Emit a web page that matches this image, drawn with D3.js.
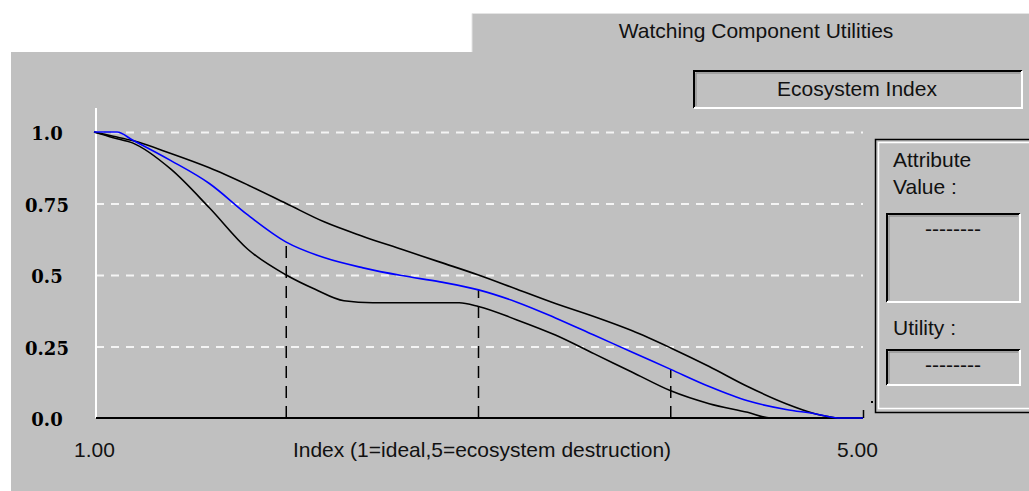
<!DOCTYPE html>
<html>
<head>
<meta charset="utf-8">
<script src="https://cdn.jsdelivr.net/npm/d3@7"></script>
<style>
  body { margin:0; background:#fff; }
  svg { display:block; }
  .ui { font-family:"Liberation Sans", Arial, sans-serif; font-size:21px; fill:#111; }
</style>
</head>
<body>
<svg id="chart" width="1029" height="491"></svg>
<script>
// 曲线数据 (x = index 1..5, y = utility)
var upperX = [1.0,1.1,1.2,1.4,1.6,1.8,2.0,2.2,2.4,2.6,2.8,3.0,3.2,3.4,3.6,3.8,4.0,4.2,4.4,4.6,4.75,4.86];
var upperY = [1.0,0.985,0.97,0.925,0.875,0.815,0.75,0.685,0.635,0.59,0.545,0.50,0.45,0.40,0.355,0.305,0.245,0.18,0.11,0.05,0.015,0];

var midX = [1.0,1.12,1.2,1.4,1.6,1.8,2.0,2.2,2.4,2.6,2.8,3.0,3.2,3.4,3.6,3.8,4.0,4.2,4.4,4.6,4.75,4.87,5.0];
var midY = [1.0,1.0,0.972,0.9,0.82,0.71,0.615,0.56,0.525,0.498,0.476,0.448,0.405,0.35,0.29,0.23,0.17,0.11,0.06,0.03,0.015,0,0];

var lowerX = [1.0,1.1,1.2,1.4,1.6,1.8,2.0,2.15,2.3,2.45,2.7,2.9,3.0,3.2,3.4,3.6,3.8,4.0,4.2,4.4,4.52,4.62];
var lowerY = [1.0,0.98,0.962,0.87,0.735,0.59,0.50,0.45,0.41,0.403,0.403,0.403,0.39,0.343,0.29,0.225,0.16,0.095,0.05,0.02,0,0];

var markerX = [2, 3, 4];          // 虚线位置
var gridY = [0.25, 0.5, 0.75, 1.0];
var yTicks = [0, 0.25, 0.5, 0.75, 1.0];
var yLabels = ["0.0", "0.25", "0.5", "0.75", "1.0"];
var xTicks = [1, 5];
var xLabels = ["1.00", "5.00"];

var svg = d3.select("#chart");

var x = d3.scaleLinear().domain([1, 5]).range([94, 863]);
var y = d3.scaleLinear().domain([0, 1]).range([418, 132]);

// 背景: 白色 + 灰色面板带标签页
svg.append("path")
  .attr("d", "M11,52 L472,52 L472,13 L1029,13 L1029,491 L11,491 Z")
  .attr("fill", "#c0c0c0");
svg.append("path")
  .attr("d", "M472,52 L472,13.5 L1029,13.5")
  .attr("fill", "none").attr("stroke", "#e4e4e4").attr("stroke-width", 1);

svg.append("text").attr("class", "ui")
  .attr("x", 756).attr("y", 38).attr("text-anchor", "middle")
  .text("Watching Component Utilities");

// 凹陷框
function sunken(x0, y0, w, h){
  var g = svg.append("g");
  g.append("path").attr("d", "M" + x0 + "," + (y0 + h) + " V" + y0 + " H" + (x0 + w))
    .attr("fill", "none").attr("stroke", "#000").attr("stroke-width", 2);
  g.append("path").attr("d", "M" + (x0 + 2) + "," + (y0 + h - 2) + " V" + (y0 + 2) + " H" + (x0 + w - 2))
    .attr("fill", "none").attr("stroke", "#808080").attr("stroke-width", 1);
  g.append("path").attr("d", "M" + x0 + "," + (y0 + h) + " H" + (x0 + w) + " V" + y0)
    .attr("fill", "none").attr("stroke", "#fff").attr("stroke-width", 2);
  return g;
}

sunken(694, 71, 328, 37);
svg.append("text").attr("class", "ui")
  .attr("x", 857).attr("y", 96).attr("text-anchor", "middle")
  .text("Ecosystem Index");

// 右侧分组框
svg.append("rect").attr("x", 875.5).attr("y", 139.5).attr("width", 170).attr("height", 273)
  .attr("fill", "none").attr("stroke", "#000").attr("stroke-width", 1.5);
svg.append("rect").attr("x", 878.5).attr("y", 142.5).attr("width", 170).attr("height", 266)
  .attr("fill", "none").attr("stroke", "#fff").attr("stroke-width", 1.5);

svg.append("text").attr("class", "ui").attr("x", 893).attr("y", 167).text("Attribute");
svg.append("text").attr("class", "ui").attr("x", 893).attr("y", 194).text("Value :");
sunken(887, 214, 133, 88);
svg.append("text").attr("class", "ui").attr("x", 953).attr("y", 236).attr("text-anchor", "middle").text("--------");

svg.append("text").attr("class", "ui").attr("x", 893).attr("y", 335).text("Utility :");
sunken(887, 350, 133, 35);
svg.append("text").attr("class", "ui").attr("x", 953).attr("y", 372).attr("text-anchor", "middle").text("--------");

svg.append("rect").attr("x", 871).attr("y", 401).attr("width", 2).attr("height", 2).attr("fill", "#000");

// 网格线
var grid = svg.append("g")
  .attr("transform", "translate(96,0)")
  .call(d3.axisLeft(y).tickValues(gridY).tickSize(-(863 - 96)).tickFormat(""));
grid.select(".domain").remove();
grid.selectAll("line")
  .attr("stroke", "#f4f4f4").attr("stroke-width", 2).attr("stroke-dasharray", "8,7");

// y轴 白线
svg.append("line")
  .attr("x1", x(1) + 2).attr("x2", x(1) + 2).attr("y1", 108).attr("y2", y(0))
  .attr("stroke", "#fff").attr("stroke-width", 2);

// y轴标签
var yAx = svg.append("g")
  .attr("transform", "translate(47,0)")
  .call(d3.axisLeft(y).tickValues(yTicks).tickSize(0).tickPadding(0)
    .tickFormat(function(d, i){ return yLabels[i]; }));
yAx.select(".domain").remove();
yAx.selectAll("text")
  .attr("x", 0).attr("dy", "0.38em").attr("y", 1)
  .attr("text-anchor", "middle")
  .attr("font-family", "'DejaVu Serif', serif")
  .attr("font-weight", "bold")
  .attr("font-size", 18)
  .attr("fill", "#000");

// x轴
var xAx = svg.append("g")
  .attr("transform", "translate(0," + y(0) + ")")
  .call(d3.axisBottom(x).tickValues([5]).tickSize(-8).tickSizeOuter(0).tickFormat(""));
xAx.select(".domain").attr("stroke", "#000").attr("stroke-width", 2)
  .attr("d", "M" + (x(1) + 2) + ",0H" + x(5));
xAx.selectAll(".tick line").attr("stroke", "#000").attr("stroke-width", 1.5);

var xLab = svg.append("g")
  .attr("transform", "translate(0," + 457 + ")")
  .call(d3.axisBottom(x).tickValues(xTicks).tickSize(0).tickPadding(0)
    .tickFormat(function(d, i){ return xLabels[i]; }));
xLab.select(".domain").remove();
xLab.selectAll("text")
  .attr("y", 0).attr("dy", 0)
  .attr("dx", function(d){ return d == 5 ? -6 : 0; })
  .attr("font-family", "'Liberation Sans', Arial, sans-serif")
  .attr("font-size", 21).attr("fill", "#111");

svg.append("text").attr("class", "ui")
  .attr("x", 482).attr("y", 457).attr("text-anchor", "middle")
  .text("Index (1=ideal,5=ecosystem destruction)");

// 虚线标记
var midInterp = function(v){
  for(var i = 1; i < midX.length; i++){
    if(v <= midX[i]){
      var t = (v - midX[i-1]) / (midX[i] - midX[i-1]);
      return midY[i-1] + t * (midY[i] - midY[i-1]);
    }
  }
  return 0;
};
svg.append("g").selectAll("line")
  .data(markerX)
  .enter()
  .append("line")
  .attr("x1", function(d){ return x(d); })
  .attr("x2", function(d){ return x(d); })
  .attr("y1", y(0))
  .attr("y2", function(d){ return y(midInterp(d)); })
  .attr("stroke", "#000").attr("stroke-width", 1.5)
  .attr("stroke-dasharray", "12,8");

// 曲线
var line = d3.line()
  .x(function(d){ return x(d[0]); })
  .y(function(d){ return y(d[1]); })
  .curve(d3.curveMonotoneX);

function pairs(xs, ys){ return xs.map(function(v, i){ return [v, ys[i]]; }); }

svg.append("path").datum(pairs(upperX, upperY))
  .attr("d", line).attr("fill", "none").attr("stroke", "#000").attr("stroke-width", 1.6);
svg.append("path").datum(pairs(lowerX, lowerY))
  .attr("d", line).attr("fill", "none").attr("stroke", "#000").attr("stroke-width", 1.6);
svg.append("path").datum(pairs(midX, midY))
  .attr("d", line).attr("fill", "none").attr("stroke", "#0000ff").attr("stroke-width", 1.6);
</script>
</body>
</html>
